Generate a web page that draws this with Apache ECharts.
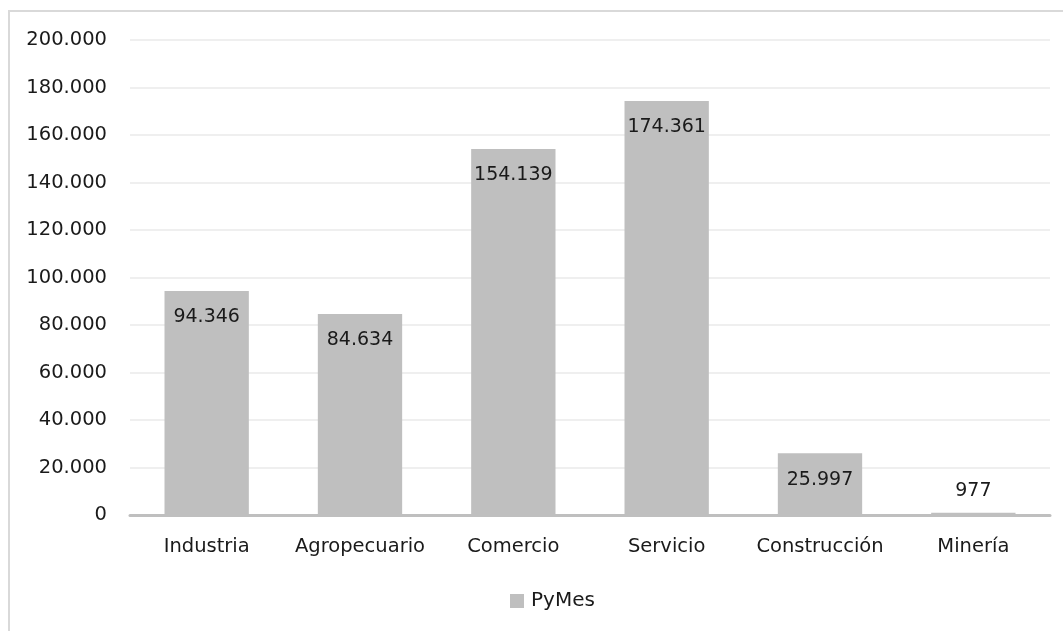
<!DOCTYPE html>
<html>
<head>
<meta charset="utf-8">
<script src="https://cdn.jsdelivr.net/npm/echarts@6/dist/echarts.min.js"></script>
<style>
  html, body { margin: 0; padding: 0; background: #fff; }
  #frame { position: absolute; left: 8px; top: 10px; width: 1200px; height: 800px; border: 2px solid #d9d9d9; box-sizing: border-box; }
  #main { position: absolute; left: 0; top: 0; width: 1063px; height: 631px; }
</style>
</head>
<body>
<div id="frame"></div>
<div id="main"></div>
<script>
var categories = ['Industria', 'Agropecuario', 'Comercio', 'Servicio', 'Construcción', 'Minería'];
var pymes = [94346, 84634, 154139, 174361, 25997, 977];
var yTicks = { min: 0, max: 200000, step: 20000 };

// separador de miles con punto
function fmt(v){
  return String(v).replace(/\B(?=(\d{3})+(?!\d))/g, '.');
}

var font = '"DejaVu Sans", sans-serif';

var data = pymes.map(function(v){
  var item = { value: v };
  if(v < 10000){
    item.label = { position: 'top', distance: 12 };
  }
  return item;
});

var chart = echarts.init(document.getElementById('main'));
chart.setOption({
  animation: false,
  textStyle: { fontFamily: font },
  grid: { left: 130, right: 13, top: 40, bottom: 116 },
  legend: {
    top: 586,
    left: 505,
    itemWidth: 14,
    itemHeight: 14,
    icon: 'rect',
    itemGap: 6,
    textStyle: { fontSize: 20, color: '#1a1a1a', fontFamily: font, padding: [0, 0, 0, 2] },
    data: ['PyMes']
  },
  xAxis: {
    type: 'category',
    data: categories,
    axisLine: { lineStyle: { color: '#bfbfbf', width: 3 } },
    axisTick: { show: false },
    axisLabel: { interval: 0, fontSize: 19.5, color: '#1a1a1a', margin: 22, fontFamily: font }
  },
  yAxis: {
    type: 'value',
    min: yTicks.min,
    max: yTicks.max,
    interval: yTicks.step,
    axisLine: { show: false },
    axisTick: { show: false },
    splitLine: { lineStyle: { color: '#efefef', width: 2 } },
    axisLabel: { fontSize: 19.5, color: '#1a1a1a', margin: 23, formatter: fmt, fontFamily: font }
  },
  series: [{
    name: 'PyMes',
    type: 'bar',
    data: data,
    barCategoryGap: '45%',
    itemStyle: { color: '#bfbfbf' },
    label: {
      show: true,
      position: 'insideTop',
      distance: 17,
      fontSize: 19,
      color: '#1a1a1a',
      fontFamily: font,
      formatter: function(p){ return fmt(p.value); }
    }
  }]
});
</script>
</body>
</html>
